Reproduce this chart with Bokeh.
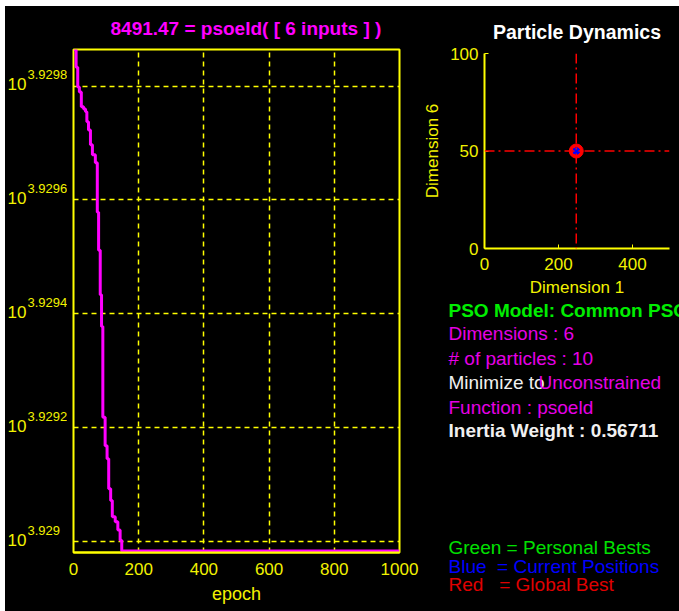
from bokeh.plotting import figure
from bokeh.models import Range1d, FixedTicker, Span, Spacer
from bokeh.layouts import row, column
from bokeh.core.properties import value
from bokeh.embed import file_html
from bokeh.resources import INLINE

FONT = "Liberation Sans"
YELLOW = "#ffff00"
YTEXT = "#f2f200"
MAGENTA = "#ff00ff"
TMAG = "#e600e6"

# ---------------- data ----------------
epochs = [1, 8, 13, 18, 24, 31, 37, 41, 46, 52, 58, 67, 73, 77, 82, 86, 90, 97,
          103, 108, 114, 119, 128, 136, 143, 148, 1000]
best_value = [8508.72, 8508.11, 8507.43, 8507.26, 8506.75, 8506.67, 8506.58,
              8506.23, 8505.95, 8505.44, 8505.10, 8504.82, 8503.12, 8501.81,
              8500.28, 8499.19, 8496.07, 8495.09, 8494.64, 8493.61, 8493.21,
              8492.65, 8492.48, 8492.19, 8491.84, 8491.47, 8491.47]
x_ticks = [0, 200, 400, 600, 800, 1000]
y_tick_exponents = ["3.929", "3.9292", "3.9294", "3.9296", "3.9298"]
title_text = "8491.47 = psoeld( [ 6 inputs ] )"

dim1_ticks = [0, 200, 400]
dim6_ticks = [0, 50, 100]
pos_dim1 = [248, 248, 248, 248, 248, 248, 248, 248, 248, 248]
pos_dim6 = [50, 50, 50, 50, 50, 50, 50, 50, 50, 50]
pbest_dim1 = [248, 248, 248, 248, 248, 248, 248, 248, 248, 248]
pbest_dim6 = [50, 50, 50, 50, 50, 50, 50, 50, 50, 50]
gbest = [248, 50]

info_lines = ["PSO Model: Common PSO", "Dimensions : 6", "# of particles : 10",
              "Minimize to", "Unconstrained", "Function : psoeld",
              "Inertia Weight : 0.56711"]
legend_lines = ["Green = Personal Bests",
                "Blue\u00a0\u00a0= Current Positions",
                "Red\u00a0\u00a0\u00a0= Global Best"]

y_tick_vals = [10 ** float(e) for e in y_tick_exponents]
yrange = Range1d(min(best_value) - 0.05, max(best_value))

common = dict(output_backend="svg", toolbar_location=None, frame_align=False,
              background_fill_color="black", border_fill_color="black")

# ---------------- left: y tick labels (10^x) ----------------
p0 = figure(width=62, height=605, y_axis_type="log", y_range=yrange,
            x_range=Range1d(0, 62),
            x_axis_location=None, y_axis_location=None,
            min_border_left=0, min_border_right=0, min_border_top=42,
            min_border_bottom=59, outline_line_color=None, **common)
p0.grid.visible = False
p0.text(x=[2] * len(y_tick_vals), y=y_tick_vals, text=["10"] * len(y_tick_vals),
        text_font=value(FONT), text_font_size="17px", text_color=YTEXT,
        text_baseline="middle", text_align="left", y_offset=-1)
p0.text(x=[22] * len(y_tick_vals), y=y_tick_vals, text=y_tick_exponents,
        text_font=value(FONT), text_font_size="13px", text_color=YTEXT,
        text_baseline="middle", text_align="left", y_offset=-11)

# ---------------- left: convergence plot ----------------
p = figure(width=353, height=605, y_axis_type="log", x_range=Range1d(0, 1000),
           y_range=yrange, y_axis_location=None,
           min_border_left=6, min_border_right=21, min_border_top=42,
           min_border_bottom=59,
           outline_line_color=YELLOW, outline_line_width=2,
           title=title_text, **common)
p.title.align = "left"
p.title.offset = 37
p.title.vertical_align = "middle"
p.title.standoff = 20
p.title.text_color = MAGENTA
p.title.text_font = FONT
p.title.text_font_size = "19px"
p.title.text_font_style = "bold"

p.step(epochs, best_value, mode="after", line_color=MAGENTA, line_width=3)

p.xaxis.ticker = FixedTicker(ticks=x_ticks)
p.xaxis.axis_label = "epoch"
p.xaxis.axis_label_text_font = FONT
p.xaxis.axis_label_text_font_size = "18px"
p.xaxis.axis_label_text_font_style = "normal"
p.xaxis.axis_label_text_color = YTEXT
p.xaxis.axis_label_standoff = 6
p.xaxis.major_label_text_font = FONT
p.xaxis.major_label_text_font_size = "17px"
p.xaxis.major_label_text_color = YTEXT
p.xaxis.major_label_standoff = 4
p.xaxis.axis_line_color = YELLOW
p.xaxis.axis_line_width = 2
p.xaxis.major_tick_line_color = None
p.xaxis.minor_tick_line_color = None

p.xgrid.ticker = FixedTicker(ticks=x_ticks)
p.ygrid.ticker = FixedTicker(ticks=y_tick_vals)
for g in (p.xgrid, p.ygrid):
    g.grid_line_color = YELLOW
    g.grid_line_dash = "5 4"
    g.grid_line_width = 1.5

# ---------------- right top: particle dynamics ----------------
p2 = figure(width=259, height=294, x_range=Range1d(0, 500),
            y_range=Range1d(0, 100),
            min_border_left=63, min_border_right=10, min_border_top=47,
            min_border_bottom=52, outline_line_color=None,
            title="Particle Dynamics", **common)
p2.title.align = "center"
p2.title.vertical_align = "middle"
p2.title.standoff = 19
p2.title.text_color = "white"
p2.title.text_font = FONT
p2.title.text_font_size = "19.5px"
p2.title.text_font_style = "bold"
p2.grid.visible = False

p2.xaxis.ticker = FixedTicker(ticks=dim1_ticks)
p2.yaxis.ticker = FixedTicker(ticks=dim6_ticks)
p2.xaxis.axis_label = "Dimension 1"
p2.yaxis.axis_label = "Dimension 6"
for ax in (p2.xaxis, p2.yaxis):
    ax.axis_line_color = YELLOW
    ax.axis_line_width = 2
    ax.major_tick_line_color = YELLOW
    ax.major_tick_in = 4
    ax.major_tick_out = 0
    ax.minor_tick_line_color = None
    ax.major_label_text_font = FONT
    ax.major_label_text_font_size = "17px"
    ax.major_label_text_color = YTEXT
    ax.axis_label_text_font = FONT
    ax.axis_label_text_font_size = "17px"
    ax.axis_label_text_font_style = "normal"
    ax.axis_label_text_color = YTEXT
p2.xaxis.major_label_standoff = 9
p2.xaxis.axis_label_standoff = 5
p2.yaxis.major_label_standoff = 6
p2.yaxis.axis_label_standoff = 5

p2.add_layout(Span(location=gbest[0], dimension="height", line_color="#ff0000",
                   line_dash="10 4 2 4", line_width=1.5))
p2.add_layout(Span(location=gbest[1], dimension="width", line_color="#ff0000",
                   line_dash="10 4 2 4", line_width=1.5))
p2.scatter(pbest_dim1, pbest_dim6, size=8, color="#00ff00")
p2.scatter([gbest[0]], [gbest[1]], size=14, color="#ff0000")
p2.scatter(pos_dim1, pos_dim6, size=6, color="#0000ff")

# ---------------- right bottom: info text ----------------
p3 = figure(width=259, height=311, x_range=Range1d(0, 259),
            y_range=Range1d(311, 0),
            x_axis_location=None, y_axis_location=None,
            min_border=0, outline_line_color=None, **common)
p3.grid.visible = False

txt = dict(text_font=value(FONT), text_font_size="19px",
           text_baseline="middle", text_align="left")
p3.text(x=[28], y=[10], text=[info_lines[0]], text_color="#00ee00",
        text_font_style="bold", **txt)
p3.text(x=[28, 28], y=[33, 58], text=info_lines[1:3], text_color=TMAG, **txt)
p3.text(x=[28], y=[82], text=[info_lines[3]], text_color="#f0f0f0", **txt)
p3.text(x=[118], y=[82], text=[info_lines[4]], text_color=TMAG, **txt)
p3.text(x=[28], y=[107], text=[info_lines[5]], text_color=TMAG, **txt)
p3.text(x=[28], y=[130], text=[info_lines[6]], text_color="#f0f0f0",
        text_font_style="bold", **txt)
p3.text(x=[28, 28, 28], y=[247, 266, 284], text=legend_lines,
        text_color=["#00e000", "#0000ff", "#e00000"], **txt)

inner = row(p0, p, column(p2, p3, styles={"background-color": "black"}),
            styles={"background-color": "black"})
layout = column(Spacer(height=6), row(Spacer(width=5), inner))
open("out.html", "w").write(file_html(layout, INLINE))
